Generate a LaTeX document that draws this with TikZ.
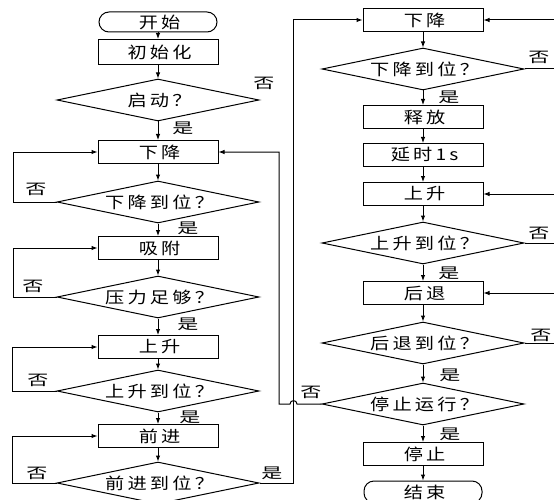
\documentclass[tikz,border=0pt]{standalone}
\usepackage{fontspec}
\setmainfont{Liberation Serif}
\newfontfamily\cjktext[FakeStretch=1.2,LetterSpace=20]{Noto Sans CJK SC}
\newfontfamily\cjklabel[FakeStretch=1.45]{Noto Sans CJK SC}
\newcommand\mytextfont{\cjktext\fontsize{16pt}{18pt}\selectfont}
\newcommand\mylabelfont{\cjklabel\fontsize{14.5pt}{16pt}\selectfont}
\usetikzlibrary{arrows.meta,shapes.geometric}
\tikzset{
  boxn/.style={draw, rectangle, minimum width=120pt, minimum height=23pt, inner sep=0pt, font=\mytextfont, execute at begin node={\hspace{3.2pt}}},
  dia/.style={draw, diamond, aspect=5, minimum width=202pt, minimum height=42pt, inner sep=0pt, font=\mytextfont, execute at begin node={\hspace{3.2pt}}},
  term/.style={draw, rectangle, rounded corners=10pt, minimum width=118pt, minimum height=20pt, inner sep=0pt, font=\mytextfont, execute at begin node={\hspace{3.2pt}}},
  lbl/.style={inner sep=0pt, font=\mylabelfont},
  arr/.style={-{Latex[length=6pt,width=4.5pt]}},
}
\begin{document}
\begin{tikzpicture}[x=1pt,y=-1pt,line width=1pt]
\useasboundingbox (0,0) rectangle (554,500);
\clip (0,0) rectangle (554,500);
% left column
\node[term] (start) at (158,22) {开始};
\node[boxn, minimum height=25pt] (init) at (158,52) {初始化};
\node[dia] (d0) at (158,100) {启动？};
\node[boxn] (b1) at (158,152) {下降};
\node[dia] (d1) at (158,202) {下降到位？};
\node[boxn] (b2) at (158,248) {吸附};
\node[dia] (d2) at (158,297) {压力足够？};
\node[boxn] (b3) at (158,347) {上升};
\node[dia] (d3) at (158,391) {上升到位？};
\node[boxn] (b4) at (158,436) {前进};
\node[dia] (d4) at (158,483) {前进到位？};
% right column
\node[boxn] (r1) at (423,20) {下降};
\node[dia] (rd1) at (423,69) {下降到位？};
\node[boxn] (r2) at (423,117) {释放};
\node[boxn] (r3) at (423,155) {延时1s};
\node[boxn] (r4) at (423,194) {上升};
\node[dia] (rd2) at (423,243) {上升到位？};
\node[boxn] (r5) at (423,293) {后退};
\node[dia] (rd3) at (423,343) {后退到位？};
\node[dia] (rd4) at (423,404) {停止运行？};
\node[boxn] (r6) at (423,454) {停止};
\node[term, minimum height=22pt] (fin) at (423,492) {结束};
% labels
\node[lbl] (l0n) at (264,83) {否};
\node[lbl] (l0y) at (183,128) {是};
\node[lbl] (l1n) at (36,189) {否};
\node[lbl] (l1y) at (188,228) {是};
\node[lbl] (l2n) at (33,286) {否};
\node[lbl] (l2y) at (188,324) {是};
\node[lbl] (l3n) at (38,380) {否};
\node[lbl] (l3y) at (190,417) {是};
\node[lbl] (l4n) at (37,473) {否};
\node[lbl] (l4y) at (272,473) {是};
\node[lbl] (lr1n) at (539,57) {否};
\node[lbl] (lr1y) at (449,97) {是};
\node[lbl] (lr2n) at (539,233) {否};
\node[lbl] (lr2y) at (449,273) {是};
\node[lbl] (lr3n) at (541,335) {否};
\node[lbl] (lr3y) at (450,375) {是};
\node[lbl] (lr4n) at (311,392) {否};
\node[lbl] (lr4y) at (450,434) {是};
% coordinates
\coordinate (c1) at (13,202);
\coordinate (c2) at (13,297);
\coordinate (c3) at (12,391);
\coordinate (c4) at (12,483);
\coordinate (c5) at (293,483);
\coordinate (e1) at (560,69);
\coordinate (e2) at (560,243);
\coordinate (e3) at (560,343);
\coordinate (h1) at (297,404);
\coordinate (h2) at (290,404);
\coordinate (c6) at (279,404);
% connectors left
\draw[arr] (start) -- (init);
\draw[arr] (init) -- (d0);
\draw[arr] (d0) -- (b1);
\draw[arr] (b1) -- (d1);
\draw[arr] (d1) -- (b2);
\draw[arr] (b2) -- (d2);
\draw[arr] (d2) -- (b3);
\draw[arr] (b3) -- (d3);
\draw[arr] (d3) -- (b4);
\draw[arr] (b4) -- (d4);
\draw[arr] (d1.west) -- (c1) |- (b1.west);
\draw[arr] (d2.west) -- (c2) |- (b2.west);
\draw[arr] (d3.west) -- (c3) |- (b3.west);
\draw[arr] (d4.west) -- (c4) |- (b4.west);
\draw[arr] (d4.east) -- (c5) |- (r1.west);
% connectors right
\draw[arr] (r1) -- (rd1);
\draw[arr] (rd1) -- (r2);
\draw[arr] (r2) -- (r3);
\draw[arr] (r3) -- (r4);
\draw[arr] (r4) -- (rd2);
\draw[arr] (rd2) -- (r5);
\draw[arr] (r5) -- (rd3);
\draw[arr] (rd3) -- (rd4);
\draw[arr] (rd4) -- (r6);
\draw[arr] (r6) -- (fin);
\draw[arr] (rd1.east) -- (e1) |- (r1.east);
\draw[arr] (rd2.east) -- (e2) |- (r4.east);
\draw[arr] (rd3.east) -- (e3) |- (r5.east);
\draw[arr] (rd4.west) -- (h1) .. controls (297,399.5) and (290,399.5) .. (h2) -- (c6) |- (b1.east);
\end{tikzpicture}
\end{document}
